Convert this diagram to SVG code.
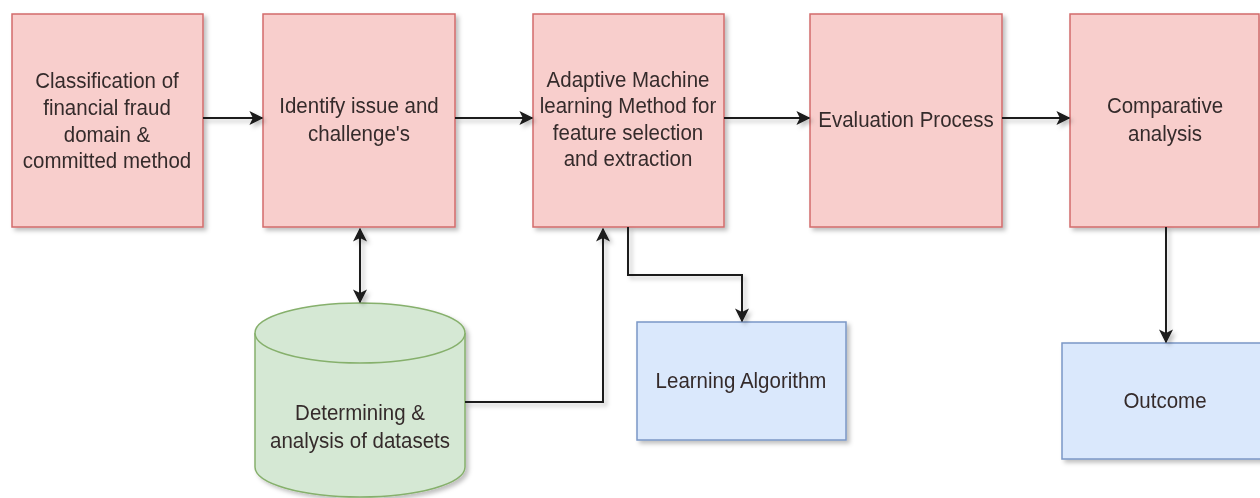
<svg xmlns="http://www.w3.org/2000/svg" width="1260" height="498" viewBox="0 0 1260 498">
  <style>
    .step { fill: #f8cecc; stroke: #d26b6b; stroke-width: 1.5; }
    .tool { fill: #dae8fc; stroke: #7b97c6; stroke-width: 1.5; }
    .data { fill: #d5e8d4; stroke: #86b06c; stroke-width: 1.5; }
    .lbl { font-family: "Liberation Sans", Arial, sans-serif; font-size: 20.5px; fill: #352c2c; text-anchor: middle; }
    .edge { fill: none; stroke: #1a1a1a; stroke-width: 2; }
  </style>
  <defs>
    <filter id="shadow" x="-10%" y="-10%" width="125%" height="125%">
      <feDropShadow dx="3" dy="3" stdDeviation="2" flood-color="#000" flood-opacity="0.25"/>
    </filter>
    <marker id="arrow" viewBox="0 0 10 10" refX="9" refY="5" markerWidth="7" markerHeight="7" orient="auto-start-reverse" markerUnits="strokeWidth">
      <path d="M0,0 L10,5 L0,10 L2.5,5 Z" fill="#1a1a1a"/>
    </marker>
  </defs>

  <!-- process steps (labels are drawn slightly tall: scale 1 x 1.12) -->
  <g id="classification" filter="url(#shadow)">
    <rect class="step" x="12" y="14" width="191" height="213"/>
    <text class="lbl" transform="translate(107 88) scale(1 1.12)">Classification of</text>
    <text class="lbl" transform="translate(107 115) scale(1 1.12)">financial fraud</text>
    <text class="lbl" transform="translate(107 142) scale(1 1.12)">domain &amp;</text>
    <text class="lbl" transform="translate(107 168) scale(1 1.12)">committed method</text>
  </g>
  <g id="identify" filter="url(#shadow)">
    <rect class="step" x="263" y="14" width="192" height="213"/>
    <text class="lbl" transform="translate(359 113) scale(1 1.12)">Identify issue and</text>
    <text class="lbl" transform="translate(359 141) scale(1 1.12)">challenge's</text>
  </g>
  <g id="adaptive" filter="url(#shadow)">
    <rect class="step" x="533" y="14" width="191" height="213"/>
    <text class="lbl" transform="translate(628 87) scale(1 1.12)">Adaptive Machine</text>
    <text class="lbl" transform="translate(628 113) scale(1 1.12)">learning Method for</text>
    <text class="lbl" transform="translate(628 140) scale(1 1.12)">feature selection</text>
    <text class="lbl" transform="translate(628 166) scale(1 1.12)">and extraction</text>
  </g>
  <g id="evaluation" filter="url(#shadow)">
    <rect class="step" x="810" y="14" width="192" height="213"/>
    <text class="lbl" transform="translate(906 127) scale(1 1.12)">Evaluation Process</text>
  </g>
  <g id="comparative" filter="url(#shadow)">
    <rect class="step" x="1070" y="14" width="189" height="213"/>
    <text class="lbl" transform="translate(1165 113) scale(1 1.12)">Comparative</text>
    <text class="lbl" transform="translate(1165 141) scale(1 1.12)">analysis</text>
  </g>

  <!-- datasets store -->
  <g id="datasets" filter="url(#shadow)">
    <path class="data" d="M255,333 A105,30 0 0 1 465,333 L465,467 A105,30 0 0 1 255,467 Z"/>
    <path class="data" d="M255,333 A105,30 0 0 0 465,333" fill="none"/>
    <text class="lbl" transform="translate(360 420) scale(1 1.12)">Determining &amp;</text>
    <text class="lbl" transform="translate(360 448) scale(1 1.12)">analysis of datasets</text>
  </g>

  <!-- outputs -->
  <g id="learning-algorithm" filter="url(#shadow)">
    <rect class="tool" x="637" y="322" width="209" height="118"/>
    <text class="lbl" transform="translate(741 388) scale(1 1.12)">Learning Algorithm</text>
  </g>
  <g id="outcome" filter="url(#shadow)">
    <rect class="tool" x="1062" y="343" width="206" height="116"/>
    <text class="lbl" transform="translate(1165 408) scale(1 1.12)">Outcome</text>
  </g>

  <!-- connectors -->
  <g id="connectors" filter="url(#shadow)">
    <path class="edge" d="M203,118 L262,118" marker-end="url(#arrow)"/>
    <path class="edge" d="M455,118 L532,118" marker-end="url(#arrow)"/>
    <path class="edge" d="M724,118 L809,118" marker-end="url(#arrow)"/>
    <path class="edge" d="M1002,118 L1069,118" marker-end="url(#arrow)"/>
    <path class="edge" d="M360,229 L360,302" marker-start="url(#arrow)" marker-end="url(#arrow)"/>
    <path class="edge" d="M465,402 L603,402 L603,229" marker-end="url(#arrow)"/>
    <path class="edge" d="M628,227 L628,275 L742,275 L742,321" marker-end="url(#arrow)"/>
    <path class="edge" d="M1166,227 L1166,342" marker-end="url(#arrow)"/>
  </g>
</svg>
